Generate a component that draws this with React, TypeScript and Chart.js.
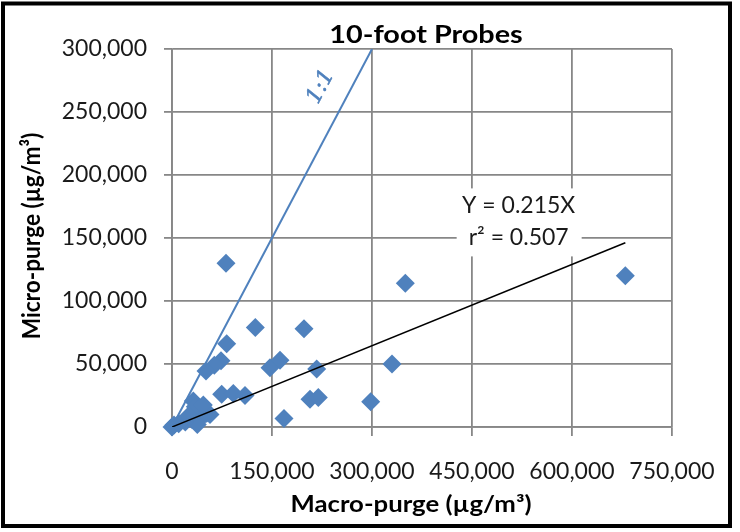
import React, { useEffect, useRef } from "react";
import { Chart, registerables } from "chart.js";

Chart.register(...registerables);

// ---- data ----
const macroPurge: number[] = [
  81000, 350000, 680000, 125000, 198000, 82000, 73500, 63500, 51000, 147000,
  162000, 217000, 330000, 74500, 92000, 109500, 32000, 207000, 219500, 298000,
  168000, 0, 3000, 52000, 40000, 45000, 30000, 38000, 20000, 57000, 10000, 35000, 47000, 25000,
];
const microPurge: number[] = [
  130000, 114000, 120000, 79000, 78000, 66000, 52500, 49000, 44500, 47000,
  53000, 46000, 50000, 26000, 26500, 25000, 20700, 22000, 23400, 20000,
  6700, 0, 1500, 11000, 14000, 8000, 6000, 2000, 4000, 10000, 2500, 16000, 17500, 9000,
];
const trendSlope = 0.215;
const rSquared = 0.507;
const oneToOneMax = 300000;
const xTicks: number[] = [0, 150000, 300000, 450000, 600000, 750000];
const yTicks: number[] = [0, 50000, 100000, 150000, 200000, 250000, 300000];
const chartTitle = "10-foot Probes";
const xTitle = "Macro-purge (µg/m³)";
const yTitle = "Micro-purge (µg/m³)";
const trendLabel1 = "Y = " + trendSlope.toFixed(3) + "X";
const trendLabel2 = "r² = " + rSquared.toFixed(3);
const oneToOneLabel = "1:1";

const BLUE = "#4F81BD";
const GRID = "#878787";
const FONT = "Lato";
const TEXT = "#1a1a1a";

const decoPlugin = {
  id: "deco",
  beforeDatasetsDraw(chart: any) {
    const { ctx, scales } = chart;
    const cx = scales.x.getPixelForValue(520000);
    const cy = scales.y.getPixelForValue(160000);
    ctx.save();
    ctx.fillStyle = "#fff";
    ctx.fillRect(cx - 62, cy - 37, 125, 68);
    ctx.restore();
  },
  afterDatasetsDraw(chart: any) {
    const { ctx, scales } = chart;
    const xs = scales.x, ys = scales.y;
    ctx.save();
    ctx.fillStyle = TEXT;
    ctx.textAlign = "center";
    ctx.textBaseline = "alphabetic";
    ctx.font = `23px ${FONT}`;
    const cx = xs.getPixelForValue(520000);
    const cy = ys.getPixelForValue(160000);
    ctx.fillText(trendLabel1, cx, cy - 12);
    ctx.fillText(trendLabel2, cx, cy + 20);
    // 1:1 label
    const lx = xs.getPixelForValue(223500);
    const ly = ys.getPixelForValue(270000);
    const ang = Math.atan2(
      ys.getPixelForValue(oneToOneMax) - ys.getPixelForValue(0),
      xs.getPixelForValue(oneToOneMax) - xs.getPixelForValue(0)
    );
    ctx.translate(lx, ly);
    ctx.rotate(ang);
    ctx.fillStyle = BLUE;
    ctx.strokeStyle = BLUE;
    ctx.lineWidth = 0.5;
    ctx.font = `italic 22px "DejaVu Serif"`;
    ctx.textBaseline = "middle";
    ctx.fillText(oneToOneLabel, 0, 0);
    ctx.strokeText(oneToOneLabel, 0, 0);
    ctx.restore();
  },
  afterDraw(chart: any) {
    const { ctx } = chart;
    ctx.save();
    ctx.fillStyle = "#000";
    ctx.textAlign = "center";
    ctx.textBaseline = "alphabetic";
    ctx.save();
    ctx.translate(426, 43);
    ctx.scale(1.2, 1);
    ctx.font = `bold 24px ${FONT}`;
    ctx.fillText(chartTitle, 0, 0);
    ctx.restore();
    ctx.save();
    ctx.translate(411, 512);
    ctx.scale(1.17, 1);
    ctx.font = `bold 22px ${FONT}`;
    ctx.fillText(xTitle, 0, 0);
    ctx.restore();
    ctx.save();
    ctx.translate(40, 236);
    ctx.rotate(-Math.PI / 2);
    ctx.scale(1.03, 1.12);
    ctx.font = `bold 22px ${FONT}`;
    ctx.fillText(yTitle, 0, 0);
    ctx.restore();
    ctx.strokeStyle = "#000";
    ctx.lineWidth = 4;
    ctx.strokeRect(3, 3.5, 727, 522.5);
    ctx.restore();
  },
};

export default function App() {
  const ref = useRef<HTMLCanvasElement | null>(null);
  useEffect(() => {
    if (!ref.current) return;
    const points = macroPurge.map((x, i) => ({ x, y: microPurge[i] }));
    const maxX = Math.max(...macroPurge);
    const trend = [
      { x: 0, y: 0 },
      { x: maxX, y: trendSlope * maxX },
    ];
    const oneToOne = [
      { x: 0, y: 0 },
      { x: oneToOneMax, y: oneToOneMax },
    ];
    const fmt = (v: any) => Number(v).toLocaleString("en-US");
    const chart = new Chart(ref.current, {
      type: "scatter",
      data: {
        datasets: [
          {
            label: "Trend",
            data: trend,
            showLine: true,
            borderColor: "#000",
            borderWidth: 1.5,
            pointRadius: 0,
            order: 0,
          },
          {
            label: "1:1",
            data: oneToOne,
            showLine: true,
            borderColor: BLUE,
            borderWidth: 2,
            pointRadius: 0,
            order: 0,
          },
          {
            label: "Probes",
            data: points,
            pointStyle: "rectRot",
            pointRadius: 9.5,
            backgroundColor: BLUE,
            borderColor: BLUE,
            borderWidth: 0,
            clip: false,
            order: 1,
          } as any,
        ],
      },
      options: {
        animation: false,
        responsive: false,
        layout: { padding: { top: 49, right: 68, left: 0, bottom: 0 } },
        plugins: { legend: { display: false }, tooltip: { enabled: false }, title: { display: false } },
        font: { family: FONT },
        scales: {
          x: {
            type: "linear",
            min: 0,
            max: 750000,
            afterBuildTicks: (s: any) => { s.ticks = xTicks.map((v) => ({ value: v })); },
            afterFit: (s: any) => { s.height = 105; },
            ticks: { callback: fmt, color: TEXT, font: { family: FONT, size: 23 }, padding: 22, maxRotation: 0 },
            grid: { color: GRID, lineWidth: 1.8, tickLength: 9, drawTicks: true },
            border: { color: GRID, width: 1.8 },
          },
          y: {
            type: "linear",
            min: 0,
            max: 300000,
            afterBuildTicks: (s: any) => { s.ticks = yTicks.map((v) => ({ value: v })); },
            afterFit: (s: any) => { s.width = 172; },
            ticks: { callback: fmt, color: TEXT, font: { family: FONT, size: 23 }, padding: 17 },
            grid: { color: GRID, lineWidth: 1.8, tickLength: 8, drawTicks: true },
            border: { color: GRID, width: 1.8 },
          },
        },
      } as any,
      plugins: [decoPlugin],
    });
    return () => chart.destroy();
  }, []);
  return (
    <div style={{ position: "fixed", left: 0, top: 0, width: 740, height: 532, background: "#fff" }}>
      <canvas ref={ref} width={740} height={532} style={{ width: 740, height: 532, display: "block" }} />
    </div>
  );
}
